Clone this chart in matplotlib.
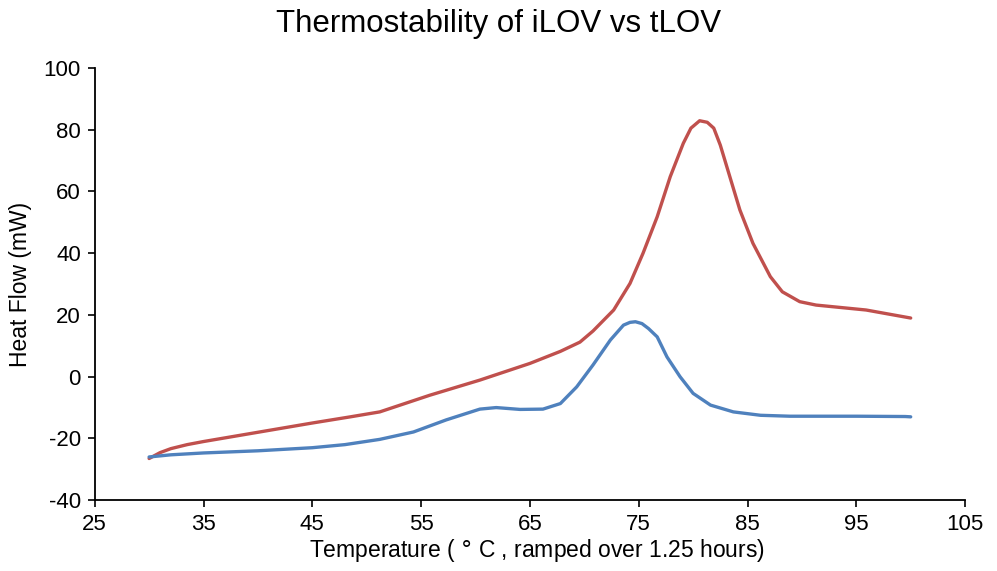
import numpy as np
import matplotlib.pyplot as plt

plt.rcParams['font.family'] = ['Liberation Sans', 'DejaVu Sans']
plt.rcParams['axes.unicode_minus'] = False

# temperature (deg C) and heat flow (mW)
temp_tlov = [30, 31, 32, 33.5, 35, 40, 45, 48.5, 51.2, 55.8, 60.4, 65, 67.8, 69.6, 70.8, 72.7, 74.2, 75.4, 76.7, 77.9, 79.1, 79.8, 80.6, 81.3, 81.9, 82.5, 83.1, 84.3, 85.5, 87.1, 88.2, 89.8, 91.3, 95.9, 100]
flow_tlov = [-26.5, -24.6, -23.3, -22, -21, -18, -15, -13, -11.4, -6, -1.1, 4.3, 8.2, 11.2, 14.8, 21.6, 30.2, 40, 51.8, 64.8, 75.6, 80.5, 82.9, 82.4, 80.5, 75, 68, 54, 43.2, 32.4, 27.5, 24.3, 23.2, 21.6, 19]

temp_ilov = [30, 32, 35, 40, 45, 48, 51.2, 54.3, 57.3, 60.4, 61.9, 64.1, 66.2, 67.8, 69.3, 70.8, 72.4, 73.6, 74.2, 74.7, 75.3, 75.9, 76.7, 77.6, 78.8, 80.0, 81.6, 83.7, 86.2, 88.9, 95, 99.5, 100]
flow_ilov = [-26, -25.3, -24.7, -24, -23, -22, -20.3, -17.9, -14, -10.5, -10, -10.6, -10.5, -8.7, -3.3, 3.8, 11.9, 16.7, 17.6, 17.8, 17.2, 15.6, 12.9, 6.4, 0, -5.4, -9.2, -11.4, -12.5, -12.8, -12.8, -12.9, -13]

x_ticks = [25, 35, 45, 55, 65, 75, 85, 95, 105]
y_ticks = [-40, -20, 0, 20, 40, 60, 80, 100]

fig = plt.figure(figsize=(9.97, 5.71), dpi=100)
ax = fig.add_axes([0.095, 0.124, 0.873, 0.757])

ax.plot(temp_tlov, flow_tlov, color='#C0504D', lw=2.4, solid_capstyle='round', solid_joinstyle='round')
ax.plot(temp_ilov, flow_ilov, color='#4F81BD', lw=2.4, solid_capstyle='round', solid_joinstyle='round')

ax.set_xlim(25, 105)
ax.set_ylim(-40, 100)
ax.set_xticks(x_ticks)
ax.set_yticks(y_ticks)
ax.tick_params(labelsize=16, length=5, width=1.2, direction='out', pad=5)
for s in ['top', 'right']:
    ax.spines[s].set_visible(False)
for s in ['left', 'bottom']:
    ax.spines[s].set_linewidth(1.3)

ax.set_xlabel('Temperature ( $\\degree$ C , ramped over 1.25 hours)', fontsize=16.5)
ax.xaxis.set_label_coords(0.508, -0.085)
ax.set_ylabel('Heat Flow (mW)', fontsize=16.5, labelpad=8)
fig.suptitle('Thermostability of iLOV vs tLOV', fontsize=22.5, y=0.985)

fig.savefig('out.png', dpi=100)
